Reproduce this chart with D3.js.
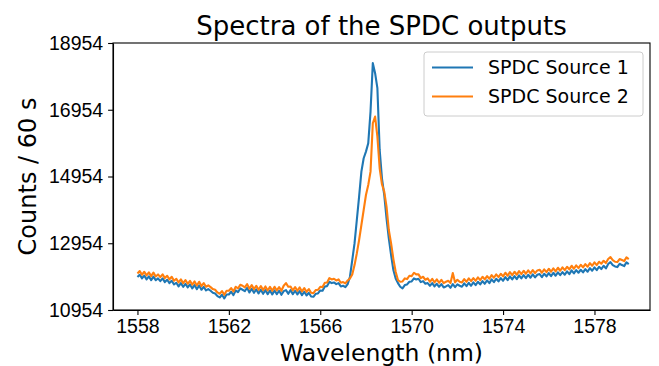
<!DOCTYPE html>
<html>
  <head>
    <meta charset="utf-8">
    <title>Spectra of the SPDC outputs</title>
    <script src="https://cdn.jsdelivr.net/npm/d3@7/dist/d3.min.js"></script>
    <style>
      body { margin: 0; background: #fff; }
      #chart { font-family: "DejaVu Sans", sans-serif; }
      .axis path, .axis line { stroke: #000; stroke-width: 1.1px; }
      .axis text { font-size: 19.5px; fill: #000; }
    </style>
  </head>

  <body>
    <svg id="chart" width="659" height="366"></svg>

    <script>
      // data (0.1 nm steps)
      wavelengths = [
        1558.0, 1558.1, 1558.2, 1558.3, 1558.4, 1558.5, 1558.6, 1558.7, 1558.8, 1558.9,
        1559.0, 1559.1, 1559.2, 1559.3, 1559.4, 1559.5, 1559.6, 1559.7, 1559.8, 1559.9,
        1560.0, 1560.1, 1560.2, 1560.3, 1560.4, 1560.5, 1560.6, 1560.7, 1560.8, 1560.9,
        1561.0, 1561.1, 1561.2, 1561.3, 1561.4, 1561.5, 1561.6, 1561.7, 1561.8, 1561.9,
        1562.0, 1562.1, 1562.2, 1562.3, 1562.4, 1562.5, 1562.6, 1562.7, 1562.8, 1562.9,
        1563.0, 1563.1, 1563.2, 1563.3, 1563.4, 1563.5, 1563.6, 1563.7, 1563.8, 1563.9,
        1564.0, 1564.1, 1564.2, 1564.3, 1564.4, 1564.5, 1564.6, 1564.7, 1564.8, 1564.9,
        1565.0, 1565.1, 1565.2, 1565.3, 1565.4, 1565.5, 1565.6, 1565.7, 1565.8, 1565.9,
        1566.0, 1566.1, 1566.2, 1566.3, 1566.4, 1566.5, 1566.6, 1566.7, 1566.8, 1566.9,
        1567.0, 1567.1, 1567.2, 1567.3, 1567.4, 1567.5, 1567.6, 1567.7, 1567.8, 1567.9,
        1568.0, 1568.1, 1568.2, 1568.3, 1568.4, 1568.5, 1568.6, 1568.7, 1568.8, 1568.9,
        1569.0, 1569.1, 1569.2, 1569.3, 1569.4, 1569.5, 1569.6, 1569.7, 1569.8, 1569.9,
        1570.0, 1570.1, 1570.2, 1570.3, 1570.4, 1570.5, 1570.6, 1570.7, 1570.8, 1570.9,
        1571.0, 1571.1, 1571.2, 1571.3, 1571.4, 1571.5, 1571.6, 1571.7, 1571.8, 1571.9,
        1572.0, 1572.1, 1572.2, 1572.3, 1572.4, 1572.5, 1572.6, 1572.7, 1572.8, 1572.9,
        1573.0, 1573.1, 1573.2, 1573.3, 1573.4, 1573.5, 1573.6, 1573.7, 1573.8, 1573.9,
        1574.0, 1574.1, 1574.2, 1574.3, 1574.4, 1574.5, 1574.6, 1574.7, 1574.8, 1574.9,
        1575.0, 1575.1, 1575.2, 1575.3, 1575.4, 1575.5, 1575.6, 1575.7, 1575.8, 1575.9,
        1576.0, 1576.1, 1576.2, 1576.3, 1576.4, 1576.5, 1576.6, 1576.7, 1576.8, 1576.9,
        1577.0, 1577.1, 1577.2, 1577.3, 1577.4, 1577.5, 1577.6, 1577.7, 1577.8, 1577.9,
        1578.0, 1578.1, 1578.2, 1578.3, 1578.4, 1578.5, 1578.6, 1578.7, 1578.8, 1578.9,
        1579.0, 1579.1, 1579.2, 1579.3, 1579.4, 1579.5
      ];

      source1 = [
        11940, 12010, 11900, 11985, 11870, 11960, 11850, 11955, 11845, 11900,
        11820, 11900, 11790, 11860, 11760, 11830, 11720, 11770, 11660, 11760,
        11650, 11740, 11630, 11720, 11600, 11700, 11580, 11690, 11560, 11650,
        11540, 11580, 11530, 11470, 11450, 11370, 11330, 11410, 11300, 11420,
        11420, 11500, 11400, 11540, 11490, 11600, 11560, 11520, 11620, 11480,
        11590, 11470, 11570, 11450, 11560, 11440, 11550, 11430, 11540, 11420,
        11540, 11430, 11530, 11410, 11520, 11550, 11440, 11550, 11430, 11530,
        11420, 11520, 11400, 11500, 11390, 11470, 11360, 11350, 11440, 11450,
        11540, 11530, 11660, 11670, 11800, 11760, 11780, 11730, 11760, 11660,
        11680, 11640, 11730, 11950, 12450, 12950, 13650, 14350, 15100, 15500,
        15700, 15950, 16900, 18350, 18050, 17600, 15750, 14900, 14400, 13700,
        13100, 12600, 12150, 11900, 11760, 11650, 11600, 11700, 11720, 11800,
        11810, 11900, 11870, 11890, 11790, 11820, 11740, 11760, 11680, 11760,
        11660, 11740, 11650, 11730, 11630, 11660, 11700, 11620, 11730, 11640,
        11720, 11680, 11650, 11750, 11670, 11770, 11680, 11780, 11700, 11800,
        11720, 11820, 11740, 11840, 11760, 11870, 11790, 11890, 11810, 11910,
        11830, 11940, 11850, 11960, 11870, 11970, 11880, 11990, 11900, 12000,
        11910, 12010, 11920, 12020, 11930, 12010, 12030, 11940, 12040, 11960,
        12060, 11970, 12070, 11980, 12080, 12000, 12090, 12010, 12110, 12030,
        12140, 12050, 12150, 12070, 12160, 12080, 12180, 12100, 12210, 12130,
        12230, 12150, 12250, 12180, 12280, 12200, 12330, 12390, 12300, 12260,
        12240, 12340, 12300, 12270, 12380, 12330
      ];

      source2 = [
        12050, 12120, 12010, 12100, 11990, 12080, 11970, 12075, 11960, 12020,
        11940, 12020, 11910, 11980, 11870, 11950, 11830, 11890, 11780, 11870,
        11760, 11850, 11740, 11830, 11710, 11810, 11690, 11800, 11670, 11760,
        11650, 11690, 11640, 11580, 11560, 11480, 11440, 11520, 11410, 11530,
        11530, 11610, 11510, 11650, 11600, 11710, 11680, 11630, 11730, 11590,
        11700, 11580, 11680, 11560, 11670, 11550, 11660, 11540, 11650, 11530,
        11650, 11540, 11640, 11530, 11680, 11760, 11650, 11660, 11540, 11640,
        11530, 11630, 11510, 11610, 11500, 11580, 11470, 11460, 11550, 11560,
        11650, 11640, 11770, 11780, 11910, 11870, 11890, 11840, 11870, 11770,
        11790, 11750, 11840, 11900, 12020, 12300, 12650, 13050, 13500, 13950,
        14400, 14700, 15100, 16550, 16750, 16150, 15200, 14720, 14500, 14050,
        13350, 12950, 12480, 12100, 11850, 11800, 11810, 11900, 11880, 11980,
        11970, 12070, 12020, 12020, 11910, 11950, 11860, 11900, 11800, 11890,
        11780, 11870, 11770, 11860, 11760, 11800, 11830, 11760, 12060, 11780,
        11860, 11800, 11780, 11880, 11800, 11900, 11820, 11910, 11830, 11930,
        11850, 11950, 11870, 11970, 11890, 12000, 11920, 12020, 11940, 12040,
        11960, 12070, 11980, 12090, 12000, 12100, 12010, 12120, 12030, 12130,
        12040, 12140, 12050, 12150, 12060, 12140, 12160, 12070, 12170, 12090,
        12190, 12100, 12200, 12110, 12220, 12130, 12230, 12150, 12250, 12170,
        12280, 12190, 12290, 12210, 12310, 12230, 12330, 12250, 12360, 12280,
        12380, 12300, 12400, 12340, 12430, 12360, 12480, 12540, 12450, 12400,
        12390, 12480, 12450, 12420, 12530, 12480
      ];

      seriesNames = ["SPDC Source 1", "SPDC Source 2"];
      seriesColours = ["#1f77b4", "#ff7f0e"];
      xTicks = [1558, 1562, 1566, 1570, 1574, 1578];
      yTicks = [10954, 12954, 14954, 16954, 18954];

      // layout
      chart = d3.select("#chart");
      margin = { top: 43, right: 9, bottom: 56, left: 113 };
      width = 659;
      height = 366;

      x = d3.scaleLinear()
        .domain([1556.93, 1580.43])
        .range([margin.left, width - margin.right]);
      y = d3.scaleLinear()
        .domain([10954, 18954])
        .range([height - margin.bottom, margin.top]);

      // lines
      line = d3.line()
        .x(function(d) { return x(d[0]); })
        .y(function(d) { return y(d[1]); });

      [source1, source2].forEach(function(values, i) {
        chart.append("path")
          .datum(wavelengths.map(function(w, j) { return [w, values[j]]; }))
          .attr("fill", "none")
          .attr("stroke", seriesColours[i])
          .attr("stroke-width", 2.1)
          .attr("stroke-linejoin", "round")
          .attr("d", line);
      });

      // axes
      xAxis = d3.axisBottom(x).tickValues(xTicks).tickFormat(d3.format("d")).tickSize(4.9).tickPadding(4.5).tickSizeOuter(0);
      yAxis = d3.axisLeft(y).tickValues(yTicks).tickFormat(d3.format("d")).tickSize(4.9).tickPadding(4.9).tickSizeOuter(0);

      chart.append("g")
        .attr("class", "axis")
        .attr("transform", "translate(0," + (height - margin.bottom) + ")")
        .call(xAxis);
      chart.append("g")
        .attr("class", "axis")
        .attr("transform", "translate(" + margin.left + ",0)")
        .call(yAxis);

      // frame
      chart.append("rect")
        .attr("x", margin.left)
        .attr("y", margin.top)
        .attr("width", width - margin.left - margin.right)
        .attr("height", height - margin.top - margin.bottom)
        .attr("fill", "none")
        .attr("stroke", "#000")
        .attr("stroke-width", 1.1);

      // titles
      chart.append("text")
        .attr("x", (margin.left + width - margin.right) / 2)
        .attr("y", 35)
        .attr("text-anchor", "middle")
        .style("font-size", "26px")
        .text("Spectra of the SPDC outputs");
      chart.append("text")
        .attr("x", (margin.left + width - margin.right) / 2)
        .attr("y", 361)
        .attr("text-anchor", "middle")
        .style("font-size", "23.5px")
        .text("Wavelength (nm)");
      chart.append("text")
        .attr("transform", "translate(36," + (margin.top + height - margin.bottom) / 2 + ") rotate(-90)")
        .attr("text-anchor", "middle")
        .style("font-size", "24px")
        .text("Counts / 60 s");

      // legend
      legend = chart.append("g")
        .attr("transform", "translate(424,52)");
      legend.append("rect")
        .attr("width", 219)
        .attr("height", 64)
        .attr("rx", 3)
        .attr("fill", "#fff")
        .attr("fill-opacity", 0.8)
        .attr("stroke", "#ccc")
        .attr("stroke-width", 1);
      seriesNames.forEach(function(name, i) {
        legend.append("line")
          .attr("x1", 8).attr("x2", 49)
          .attr("y1", 15.5 + i * 29).attr("y2", 15.5 + i * 29)
          .attr("stroke", seriesColours[i])
          .attr("stroke-width", 2.1);
        legend.append("text")
          .attr("x", 64)
          .attr("y", 15.5 + i * 29)
          .attr("dy", "0.35em")
          .style("font-size", "19px")
          .text(name);
      });
    </script>
  </body>
</html>
